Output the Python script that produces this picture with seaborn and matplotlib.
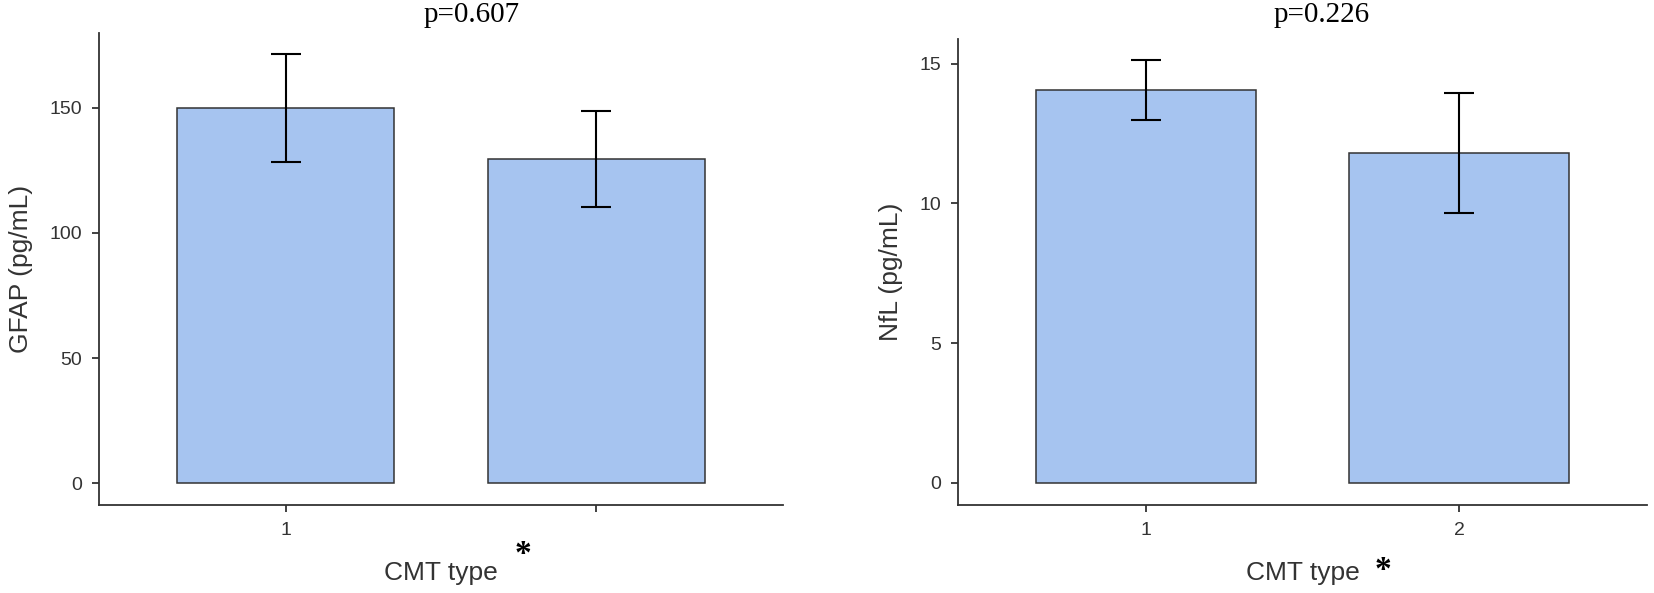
import pandas as pd
import matplotlib
matplotlib.use("Agg")
import matplotlib.pyplot as plt
import seaborn as sns

# values
cmt_types = ["1", "2"]
gfap_mean = [150.0, 129.5]
gfap_se = [21.6, 19.2]
nfl_mean = [14.05, 11.80]
nfl_se = [1.08, 2.16]
p_values = ["p=0.607", "p=0.226"]
gfap_ticklabels = ["1", ""]
nfl_ticklabels = ["1", "2"]

sns.set_style("ticks")
plt.rcParams['font.family'] = ['Liberation Sans', 'DejaVu Sans']

bar_color = "#a6c4f0"
dark = "#333333"

fig = plt.figure(figsize=(16.54, 5.93), dpi=100)
ax1 = fig.add_axes([99/1654, 1-505/593, 684/1654, (505-33.3)/593])
ax2 = fig.add_axes([958/1654, 1-505/593, 689/1654, (505-38.9)/593])


def draw(ax, means, se, ylabel, ticklabels, yticks, ylim):
    df = pd.DataFrame({"CMT type": cmt_types, "value": means})
    sns.barplot(data=df, x="CMT type", y="value", ax=ax, color=bar_color,
                saturation=1, width=0.7, edgecolor=dark, linewidth=1.1,
                errorbar=None)
    ax.errorbar(range(len(means)), means, yerr=se, fmt="none", ecolor="black",
                elinewidth=1.5, capsize=11, capthick=1.5)
    ax.set_xlim(-0.6, 1.6)
    ax.set_ylim(*ylim)
    ax.set_yticks(yticks)
    ax.set_xticks(range(len(ticklabels)))
    ax.set_xticklabels(ticklabels)
    ax.set_xlabel("CMT type", fontsize=19, color=dark, labelpad=16)
    ax.set_ylabel(ylabel, fontsize=19, color=dark, labelpad=12)
    ax.tick_params(axis="both", labelsize=14, colors=dark, length=5, width=1.3, pad=7)
    for s in ["left", "bottom"]:
        ax.spines[s].set_color(dark)
        ax.spines[s].set_linewidth(1.3)
    sns.despine(ax=ax)


draw(ax1, gfap_mean, gfap_se, "GFAP (pg/mL)", gfap_ticklabels, [0, 50, 100, 150], (-8.6, 179.7))
draw(ax2, nfl_mean, nfl_se, "NfL (pg/mL)", nfl_ticklabels, [0, 5, 10, 15], (-0.79, 15.88))

fig.text(472/1654, 1-22/593, p_values[0], ha="center", va="baseline",
         fontsize=21, family="Liberation Serif", color="black")
fig.text(1322/1654, 1-22/593, p_values[1], ha="center", va="baseline",
         fontsize=21, family="Liberation Serif", color="black")

fig.text(523/1654, 1-554/593, "*", ha="center", va="center",
         fontsize=24, family="Liberation Serif", fontweight="bold", color="black")
fig.text(1383/1654, 1-571/593, "*", ha="center", va="center",
         fontsize=24, family="Liberation Serif", fontweight="bold", color="black")

fig.savefig("out.png", dpi=100)
